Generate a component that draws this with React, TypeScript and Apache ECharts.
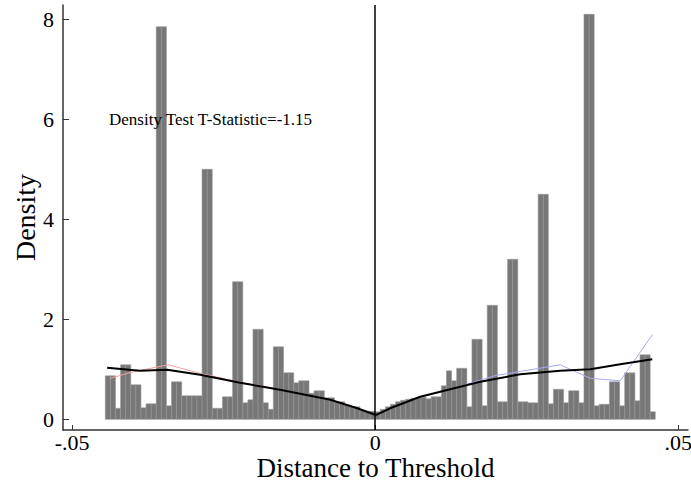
import React, { useEffect, useRef } from "react";
import * as echarts from "echarts";

// Histogram bin width (distance units) and bin heights (density)
const BIN_WIDTH = 0.00084;
const leftHeights = [
  0.87, 0.87, 0.22, 1.09, 1.09, 0.69, 0.69, 0.23, 0.31, 0.31,
  7.85, 7.85, 0.27, 0.75, 0.75, 0.47, 0.47, 0.47, 0.47, 5.0,
  5.0, 0.22, 0.22, 0.45, 0.45, 2.75, 2.75, 0.33, 0.39, 1.8,
  1.8, 0.33, 0.2, 1.45, 1.45, 0.93, 0.93, 0.73, 0.77, 0.77,
  0.52, 0.57, 0.57, 0.43, 0.43, 0.35, 0.35, 0.29, 0.25, 0.25,
  0.17, 0.16, 0.16,
];
const rightHeights = [
  0.15, 0.2, 0.25, 0.3, 0.35, 0.38, 0.4, 0.42, 0.44, 0.44,
  0.41, 0.45, 0.45, 0.67, 0.97, 0.77, 1.02, 1.02, 0.25, 1.6,
  1.6, 0.27, 2.28, 2.28, 0.35, 0.35, 3.2, 3.2, 0.35, 0.35,
  0.33, 0.33, 4.5, 4.5, 0.31, 0.6, 0.6, 0.33, 0.57, 0.57,
  0.33, 8.1, 8.1, 0.27, 0.3, 0.3, 0.75, 0.75, 0.27, 0.93,
  0.93, 0.37, 1.29, 1.29, 0.15,
];

// Fitted densities (black) and raw estimates (faint)
const leftFit: [number, number][] = [
  [-0.04422, 1.03], [-0.03878, 0.97], [-0.03432, 0.99], [-0.02888, 0.89],
  [-0.02228, 0.73], [-0.01568, 0.59], [-0.00743, 0.39], [-0.00297, 0.22], [0, 0.09],
];
const rightFit: [number, number][] = [
  [0, 0.08], [0.00248, 0.22], [0.00743, 0.45], [0.01238, 0.6], [0.01733, 0.75],
  [0.02393, 0.9], [0.03053, 0.97], [0.03548, 1.0], [0.04043, 1.1], [0.04571, 1.2],
];
const leftRaw: [number, number][] = [
  [-0.04373, 0.82], [-0.03993, 0.95], [-0.03416, 1.09], [-0.02888, 0.92],
  [-0.02228, 0.74], [-0.01568, 0.6], [-0.00743, 0.38], [-0.00297, 0.21], [0, 0.1],
];
const rightRaw: [number, number][] = [
  [0, 0.08], [0.00248, 0.21], [0.00743, 0.44], [0.01238, 0.6], [0.01997, 0.88],
  [0.02162, 0.91], [0.03053, 1.09], [0.03548, 0.82], [0.04043, 0.77], [0.04571, 1.69],
];

const xTicks = [-0.05, 0, 0.05];
const yTicks = [0, 2, 4, 6, 8];
const annotation = "Density Test T-Statistic=-1.15";

const FONT = '"Liberation Serif", "DejaVu Serif", serif';

export default function App() {
  const ref = useRef<HTMLDivElement>(null);
  useEffect(() => {
    if (!ref.current) return;
    const chart = echarts.init(ref.current, undefined, { renderer: "svg" });
    const bins: number[][] = [];
    const nL = leftHeights.length;
    leftHeights.forEach((h, i) => {
      bins.push([(i - nL) * BIN_WIDTH, (i - nL + 1) * BIN_WIDTH, h]);
    });
    rightHeights.forEach((h, i) => {
      bins.push([i * BIN_WIDTH, (i + 1) * BIN_WIDTH, h]);
    });
    const fmt = (v: number) => String(v).replace("0.", ".");
    chart.setOption({
      animation: false,
      grid: { left: 63, right: 3, top: 5, bottom: 52, outerBoundsMode: "none", containLabel: false },
      xAxis: {
        type: "value",
        min: -0.0515,
        max: 0.0516,
        name: "Distance to Threshold",
        nameLocation: "middle",
        nameGap: 38,
        nameMoveOverlap: false,
        nameTextStyle: { fontFamily: FONT, fontSize: 27, lineHeight: 27, color: "#000", verticalAlign: "middle" },
        axisLine: { show: true, onZero: false, lineStyle: { color: "#333", width: 1.5 } },
        axisTick: { show: true, inside: true, length: 5, customValues: xTicks, lineStyle: { color: "#333" } },
        axisLabel: { customValues: xTicks, formatter: fmt, fontFamily: FONT, fontSize: 22, lineHeight: 22, color: "#000", margin: 1 },
        splitLine: { show: false },
      },
      yAxis: {
        type: "value",
        min: -0.214,
        max: 8.286,
        name: "Density",
        nameLocation: "middle",
        nameGap: 38,
        nameMoveOverlap: false,
        nameTextStyle: { fontFamily: FONT, fontSize: 28, color: "#000", verticalAlign: "middle" },
        axisLine: { show: true, onZero: false, lineStyle: { color: "#333", width: 1.5 } },
        axisTick: { show: true, inside: true, length: 6, customValues: yTicks, lineStyle: { color: "#333" } },
        axisLabel: { customValues: yTicks, fontFamily: FONT, fontSize: 22, color: "#000", margin: 9 },
        splitLine: { show: false },
      },
      graphic: [
        {
          type: "text",
          left: 109,
          top: 111,
          z: 100,
          style: { text: annotation, font: `17px ${FONT}`, fill: "#000" },
        },
      ],
      series: [
        {
          type: "custom",
          data: bins,
          encode: { x: [0, 1], y: 2 },
          clip: true,
          renderItem: (params: any, api: any) => {
            const p0 = api.coord([api.value(0), api.value(2)]);
            const p1 = api.coord([api.value(1), 0]);
            return {
              type: "rect",
              shape: { x: p0[0], y: p0[1], width: p1[0] - p0[0], height: p1[1] - p0[1] },
              style: { fill: "#777777", stroke: "#959595", lineWidth: 0.6 },
            };
          },
          z: 1,
        },
        {
          type: "line",
          data: leftRaw,
          showSymbol: false,
          lineStyle: { color: "#f2a3a3", width: 1 },
          z: 2,
        },
        {
          type: "line",
          data: rightRaw,
          showSymbol: false,
          lineStyle: { color: "#a9a9f2", width: 1 },
          z: 2,
        },
        {
          type: "line",
          data: leftFit,
          showSymbol: false,
          lineStyle: { color: "#000", width: 2 },
          z: 3,
        },
        {
          type: "line",
          data: rightFit,
          showSymbol: false,
          lineStyle: { color: "#000", width: 2 },
          z: 3,
          markLine: {
            symbol: "none",
            silent: true,
            label: { show: false },
            lineStyle: { color: "#000", width: 1.5, type: "solid" },
            data: [{ xAxis: 0 }],
          },
        },
      ],
    });
    return () => chart.dispose();
  }, []);
  return (
    <div
      ref={ref}
      style={{ position: "fixed", left: 0, top: 0, width: 691, height: 482, background: "#fff" }}
    />
  );
}
